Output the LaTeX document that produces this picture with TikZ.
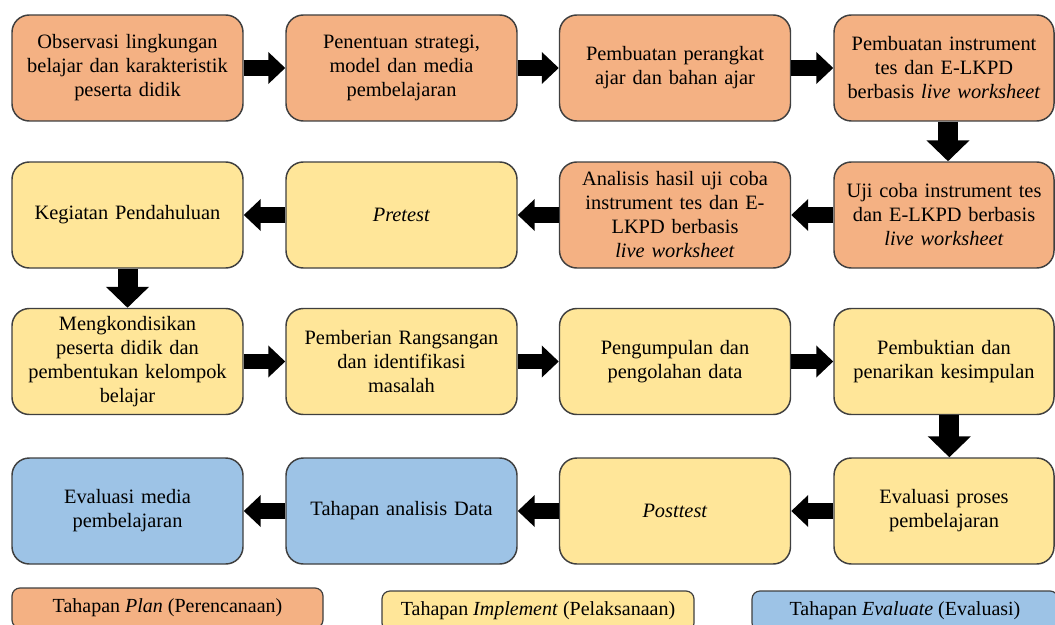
\documentclass[tikz,border=0pt]{standalone}
\usepackage{fontspec}
\setmainfont{Liberation Serif}[ItalicFont={Liberation Serif Italic}, BoldFont={Liberation Serif Bold}]
\usetikzlibrary{arrows.meta}
\definecolor{plan}{HTML}{F4B183}
\definecolor{impl}{HTML}{FFE699}
\definecolor{eval}{HTML}{9DC3E6}
\definecolor{edge}{HTML}{3F3F3F}
\tikzset{
  stage/.style={draw=edge, line width=1.1pt, rounded corners=13pt, align=center,
    minimum height=79.5pt, inner sep=2pt, font=\fontsize{15.3}{18}\selectfont},
  wide/.style={minimum width=173.25pt, text width=165pt},
  narrow/.style={minimum width=165pt, text width=158pt},
  planbox/.style={stage, fill=plan},
  implbox/.style={stage, fill=impl},
  evalbox/.style={stage, fill=eval},
  legendbox/.style={draw=edge, line width=0.9pt, rounded corners=6pt, align=center,
    minimum height=30pt, font=\fontsize{15}{18}\selectfont},
  harrow/.style={line width=11.5pt, -{Triangle[length=12.75pt, width=23.25pt]}},
  varrow/.style={line width=15pt, -{Triangle[length=15.75pt, width=31.5pt]}}
}
\begin{document}
\begin{tikzpicture}[x=0.75pt, y=-0.75pt]
\useasboundingbox (0,0) rectangle (1055,624);
\clip (0,0) rectangle (1055,624);
% row 1
\node[planbox, wide] (n1) at (127.5,68) {Observasi lingkungan\\belajar dan karakteristik\\peserta didik};
\node[planbox, wide] (n2) at (401.5,68) {Penentuan strategi,\\model dan media\\pembelajaran};
\node[planbox, wide] (n3) at (675,68) {Pembuatan perangkat\\ajar dan bahan ajar};
\node[planbox, narrow] (n4) at (944,68) {Pembuatan instrument\\tes dan E-LKPD\\berbasis \textit{live worksheet}};
% row 2
\node[planbox, narrow] (n5) at (944,215) {Uji coba instrument tes\\dan E-LKPD berbasis\\\textit{live worksheet}};
\node[planbox, wide] (n6) at (675,215) {Analisis hasil uji coba\\instrument tes dan E-\\LKPD berbasis\\\textit{live worksheet}};
\node[implbox, wide] (n7) at (401.5,215) {\textit{Pretest}};
\node[implbox, wide] (n8) at (127.5,215) {Kegiatan Pendahuluan};
% row 3
\node[implbox, wide] (n9) at (127.5,361.5) {Mengkondisikan\\peserta didik dan\\pembentukan kelompok\\belajar};
\node[implbox, wide] (n10) at (401.5,361.5) {Pemberian Rangsangan\\dan identifikasi\\masalah};
\node[implbox, wide] (n11) at (675,361.5) {Pengumpulan dan\\pengolahan data};
\node[implbox, narrow] (n12) at (944,361.5) {Pembuktian dan\\penarikan kesimpulan};
% row 4
\node[implbox, narrow] (n13) at (944,511) {Evaluasi proses\\pembelajaran};
\node[implbox, wide] (n14) at (675,511) {\textit{Posttest}};
\node[evalbox, wide] (n15) at (401.5,511) {Tahapan analisis Data};
\node[evalbox, wide] (n16) at (127.5,511) {Evaluasi media\\pembelajaran};
% arrows
\draw[harrow] (n1) -- (n2);
\draw[harrow] (n2) -- (n3);
\draw[harrow] (n3) -- (n4);
\draw[varrow] ([xshift=3pt]n4.south) -- ([xshift=3pt]n5.north);
\draw[harrow] (n5) -- (n6);
\draw[harrow] (n6) -- (n7);
\draw[harrow] (n7) -- (n8);
\draw[varrow] (n8) -- (n9);
\draw[harrow] (n9) -- (n10);
\draw[harrow] (n10) -- (n11);
\draw[harrow] (n11) -- (n12);
\draw[varrow] ([xshift=4pt]n12.south) -- ([xshift=4pt]n13.north);
\draw[harrow] (n13) -- (n14);
\draw[harrow] (n14) -- (n15);
\draw[harrow] (n15) -- (n16);
% legend
\node[legendbox, fill=plan, minimum width=233.25pt] (l1) at (167.5,608) {Tahapan \textit{Plan} (Perencanaan)};
\node[legendbox, fill=impl, minimum width=234pt] (l2) at (538,611) {Tahapan \textit{Implement} (Pelaksanaan)};
\node[legendbox, fill=eval, minimum width=229.5pt] (l3) at (905,611) {Tahapan \textit{Evaluate} (Evaluasi)};
\end{tikzpicture}
\end{document}
